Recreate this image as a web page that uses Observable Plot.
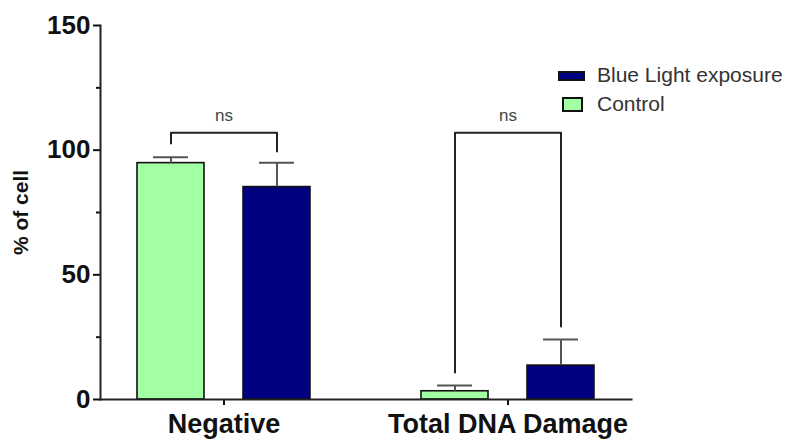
<!DOCTYPE html>
<html>
<head>
<meta charset="utf-8">
<script src="https://cdn.jsdelivr.net/npm/d3@7"></script>
<script src="https://cdn.jsdelivr.net/npm/@observablehq/plot@0.6"></script>
<style>
  html, body { margin: 0; padding: 0; background: #fff; }
  #wrap { position: relative; width: 792px; height: 441px; font-family: "Liberation Sans", Arial, sans-serif; }
  .sw { position: absolute; box-sizing: border-box; border: 2px solid #111; }
  .lt { position: absolute; font-size: 21px; line-height: 21px; color: #333; white-space: nowrap; }
</style>
</head>
<body>
<div id="wrap"></div>
<script>
// ---- data ----
const groups = ["Negative", "Total DNA Damage"];
const seriesNames = ["Control", "Blue Light exposure"];
const seriesColors = ["#a3ffa3", "#000080"];
const controlMean = [94.8, 3.3];
const controlSem = [2.4, 2.3];
const blueMean = [85.2, 13.6];
const blueSem = [9.8, 10.5];
const bracketTop = [107, 107];
const bracketLeftEnd = [102.7, 10.8];
const bracketRightEnd = [99.5, 29.3];
const sigLabels = ["ns", "ns"];
const sigLevel = [114, 114];
const yTicks = [0, 50, 100, 150];
const yMinorTicks = [25, 75, 125];
const yLabel = "% of cell";

// ---- tables built from the arrays ----
const bars = groups.flatMap((g, i) => [
  {group: g, series: seriesNames[0], value: controlMean[i], sem: controlSem[i]},
  {group: g, series: seriesNames[1], value: blueMean[i], sem: blueSem[i]}
]);
const brackets = groups.flatMap((g, i) => [
  {group: g, series: seriesNames[0], y: bracketLeftEnd[i]},
  {group: g, series: seriesNames[0], y: bracketTop[i]},
  {group: g, series: seriesNames[1], y: bracketTop[i]},
  {group: g, series: seriesNames[1], y: bracketRightEnd[i]}
]);
const sig = groups.map((g, i) => ({group: g, label: sigLabels[i], y: sigLevel[i]}));

const font = "'Liberation Sans', Arial, sans-serif";

const chart = Plot.plot({
  width: 792,
  height: 441,
  marginLeft: 100,
  marginRight: 160,
  marginTop: 25,
  marginBottom: 42,
  style: {fontFamily: font, background: "#fff", color: "#111"},
  fx: {domain: groups, paddingInner: 0.13, paddingOuter: 0, label: null},
  x: {domain: seriesNames, paddingInner: 0.364, paddingOuter: 0.338, axis: null},
  y: {domain: [0, 150]},
  color: {domain: seriesNames, range: seriesColors},
  marks: [
    Plot.barY(bars, {fx: "group", x: "series", y: "value", fill: "series", stroke: "#111", strokeWidth: 1.6}),
    Plot.ruleX(bars, {fx: "group", x: "series", y1: "value", y2: d => d.value + d.sem, stroke: "#555", strokeWidth: 2}),
    Plot.tickY(bars, {fx: "group", x: "series", y: d => d.value + d.sem, stroke: "#555", strokeWidth: 2, inset: 16}),
    Plot.line(brackets, {fx: "group", x: "series", y: "y", z: "group", stroke: "#222", strokeWidth: 2}),
    Plot.text(sig, {fx: "group", y: "y", text: "label", fontSize: 17, fill: "#444"}),
    Plot.axisY({ticks: yTicks, tickSize: 7, tickPadding: 3, fontSize: 26, fontWeight: "bold", label: null, strokeWidth: 2}),
    Plot.axisY({ticks: yMinorTicks, tickSize: 4, tickFormat: () => "", label: null, strokeWidth: 2}),
    Plot.axisY({ticks: [0], tickSize: 0, tickFormat: () => "", label: yLabel, labelAnchor: "center", labelArrow: "none", labelOffset: 87, fontSize: 21, fontWeight: "bold"}),
    Plot.axisFx({anchor: "bottom", tickSize: 6, tickPadding: 8, fontSize: 27, fontWeight: "bold", label: null, strokeWidth: 2}),
    Plot.frame({anchor: "left", facet: "super", stroke: "#222", strokeWidth: 2}),
    Plot.frame({anchor: "bottom", facet: "super", stroke: "#222", strokeWidth: 2})
  ]
});

const wrap = document.getElementById("wrap");
wrap.appendChild(chart);

// legend (HTML overlay on the upper right)
const legendItems = [
  {name: seriesNames[1], color: seriesColors[1], left: 558, top: 71, w: 27, h: 10, textTop: 64},
  {name: seriesNames[0], color: seriesColors[0], left: 562, top: 97, w: 21, h: 15, textTop: 93}
];
for (const it of legendItems) {
  const sw = document.createElement("div");
  sw.className = "sw";
  Object.assign(sw.style, {left: it.left + "px", top: it.top + "px", width: it.w + "px", height: it.h + "px", background: it.color});
  wrap.appendChild(sw);
  const t = document.createElement("div");
  t.className = "lt";
  t.textContent = it.name;
  Object.assign(t.style, {left: "597px", top: it.textTop + "px"});
  wrap.appendChild(t);
}
</script>
</body>
</html>
